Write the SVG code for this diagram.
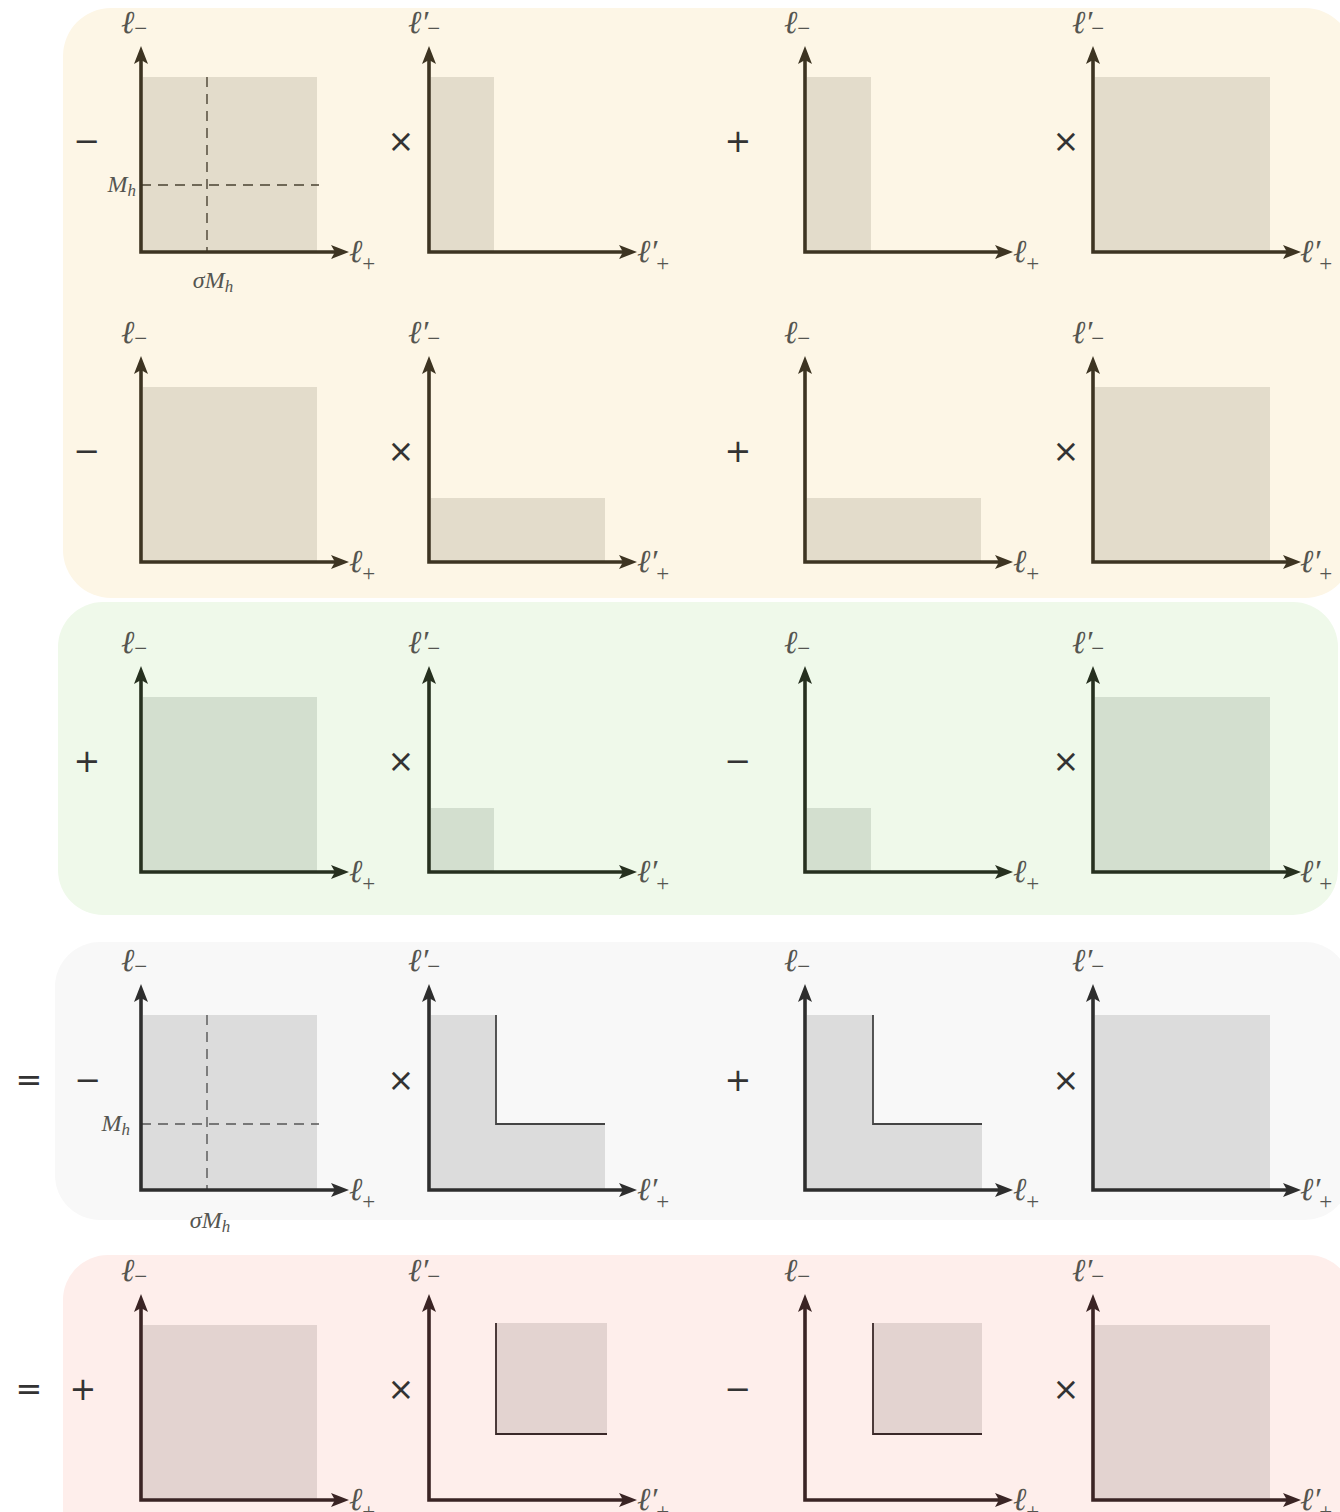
<svg xmlns="http://www.w3.org/2000/svg" xmlns:xlink="http://www.w3.org/1999/xlink" width="1340" height="1512" viewBox="0 0 1340 1512">
<style>
.lab{font-family:"Liberation Serif","DejaVu Serif",serif;font-style:italic;font-size:32px;fill:#555550}
.sub{font-style:normal;font-size:23px}
.ml{font-family:"Liberation Serif","DejaVu Serif",serif;font-style:italic;font-size:24px;fill:#555550}
.mlsub{font-style:italic;font-size:17px}
.op{font-family:"DejaVu Sans","Liberation Sans",sans-serif;font-size:32px;fill:#333;text-anchor:middle}
.dash{stroke-width:1.4;stroke-dasharray:10,7;fill:none}
.edge{stroke-width:1.8;fill:none}
.ax{fill:none;stroke:currentColor;stroke-width:3.6;stroke-linejoin:miter}
</style>
<defs>
<g id="axes">
<path class="ax" d="M0,-195 V0 H197"/>
<polygon points="0,-206 -7,-188 0,-192 7,-188" fill="currentColor"/>
<polygon points="208,0 190,-7 194,0 190,7" fill="currentColor"/>
</g>
</defs>

<g id="panels">
<rect x="63" y="8" width="1290" height="590" rx="48" fill="#fdf6e6"/>
<rect x="58" y="602" width="1280" height="313" rx="45" fill="#eff9ea"/>
<rect x="55" y="942" width="1295" height="278" rx="45" fill="#f8f8f8"/>
<rect x="63" y="1255" width="1290" height="300" rx="45" fill="#feeeeb"/>
</g>

<!-- Row 1 (yellow) -->
<g id="r1c1" color="#3d3422">
<rect x="143" y="77" width="174" height="175" fill="#e3dccb"/>
<path class="dash" stroke="#4a4232" d="M207,77 V252 M141,185 H319"/>
<use xlink:href="#axes" x="141" y="252"/>
<text class="lab" x="121" y="33">ℓ<tspan class="sub" dy="3">−</tspan></text>
<text class="lab" x="349" y="262">ℓ<tspan class="sub" dy="9">+</tspan></text>
<text class="ml" x="136" y="192" text-anchor="end">M<tspan class="mlsub" dy="4">h</tspan></text>
<text class="ml" x="213" y="288" text-anchor="middle">σM<tspan class="mlsub" dy="4">h</tspan></text>
</g>
<g id="r1c2" color="#3d3422">
<rect x="431" y="77" width="63" height="175" fill="#e3dccb"/>
<use xlink:href="#axes" x="429" y="252"/>
<text class="lab" x="408" y="33">ℓ′<tspan class="sub" dx="-1" dy="3">−</tspan></text>
<text class="lab" x="637" y="262">ℓ′<tspan class="sub" dx="-1" dy="9">+</tspan></text>
</g>
<g id="r1c3" color="#3d3422">
<rect x="807" y="77" width="64" height="175" fill="#e3dccb"/>
<use xlink:href="#axes" x="805" y="252"/>
<text class="lab" x="784" y="33">ℓ<tspan class="sub" dy="3">−</tspan></text>
<text class="lab" x="1013" y="262">ℓ<tspan class="sub" dy="9">+</tspan></text>
</g>
<g id="r1c4" color="#3d3422">
<rect x="1095" y="77" width="175" height="175" fill="#e3dccb"/>
<use xlink:href="#axes" x="1093" y="252"/>
<text class="lab" x="1072" y="33">ℓ′<tspan class="sub" dx="-1" dy="3">−</tspan></text>
<text class="lab" x="1300" y="262">ℓ′<tspan class="sub" dx="-1" dy="9">+</tspan></text>
</g>
<g id="ops1">
<text class="op" x="87" y="152">−</text>
<text class="op" x="401" y="152">×</text>
<text class="op" x="738" y="152">+</text>
<text class="op" x="1066" y="152">×</text>
</g>

<!-- Row 2 (yellow) -->
<g id="r2c1" color="#3d3422">
<rect x="143" y="387" width="174" height="175" fill="#e3dccb"/>
<use xlink:href="#axes" x="141" y="562"/>
<text class="lab" x="121" y="343">ℓ<tspan class="sub" dy="3">−</tspan></text>
<text class="lab" x="349" y="572">ℓ<tspan class="sub" dy="9">+</tspan></text>
</g>
<g id="r2c2" color="#3d3422">
<rect x="431" y="498" width="174" height="64" fill="#e3dccb"/>
<use xlink:href="#axes" x="429" y="562"/>
<text class="lab" x="408" y="343">ℓ′<tspan class="sub" dx="-1" dy="3">−</tspan></text>
<text class="lab" x="637" y="572">ℓ′<tspan class="sub" dx="-1" dy="9">+</tspan></text>
</g>
<g id="r2c3" color="#3d3422">
<rect x="807" y="498" width="174" height="64" fill="#e3dccb"/>
<use xlink:href="#axes" x="805" y="562"/>
<text class="lab" x="784" y="343">ℓ<tspan class="sub" dy="3">−</tspan></text>
<text class="lab" x="1013" y="572">ℓ<tspan class="sub" dy="9">+</tspan></text>
</g>
<g id="r2c4" color="#3d3422">
<rect x="1095" y="387" width="175" height="175" fill="#e3dccb"/>
<use xlink:href="#axes" x="1093" y="562"/>
<text class="lab" x="1072" y="343">ℓ′<tspan class="sub" dx="-1" dy="3">−</tspan></text>
<text class="lab" x="1300" y="572">ℓ′<tspan class="sub" dx="-1" dy="9">+</tspan></text>
</g>
<g id="ops2">
<text class="op" x="87" y="462">−</text>
<text class="op" x="401" y="462">×</text>
<text class="op" x="738" y="462">+</text>
<text class="op" x="1066" y="462">×</text>
</g>

<!-- Row 3 (green) -->
<g id="r3c1" color="#26301f">
<rect x="143" y="697" width="174" height="175" fill="#d3dfcf"/>
<use xlink:href="#axes" x="141" y="872"/>
<text class="lab" x="121" y="653">ℓ<tspan class="sub" dy="3">−</tspan></text>
<text class="lab" x="349" y="882">ℓ<tspan class="sub" dy="9">+</tspan></text>
</g>
<g id="r3c2" color="#26301f">
<rect x="431" y="808" width="63" height="64" fill="#d3dfcf"/>
<use xlink:href="#axes" x="429" y="872"/>
<text class="lab" x="408" y="653">ℓ′<tspan class="sub" dx="-1" dy="3">−</tspan></text>
<text class="lab" x="637" y="882">ℓ′<tspan class="sub" dx="-1" dy="9">+</tspan></text>
</g>
<g id="r3c3" color="#26301f">
<rect x="807" y="808" width="64" height="64" fill="#d3dfcf"/>
<use xlink:href="#axes" x="805" y="872"/>
<text class="lab" x="784" y="653">ℓ<tspan class="sub" dy="3">−</tspan></text>
<text class="lab" x="1013" y="882">ℓ<tspan class="sub" dy="9">+</tspan></text>
</g>
<g id="r3c4" color="#26301f">
<rect x="1095" y="697" width="175" height="175" fill="#d3dfcf"/>
<use xlink:href="#axes" x="1093" y="872"/>
<text class="lab" x="1072" y="653">ℓ′<tspan class="sub" dx="-1" dy="3">−</tspan></text>
<text class="lab" x="1300" y="882">ℓ′<tspan class="sub" dx="-1" dy="9">+</tspan></text>
</g>
<g id="ops3">
<text class="op" x="87" y="772">+</text>
<text class="op" x="401" y="772">×</text>
<text class="op" x="738" y="772">−</text>
<text class="op" x="1066" y="772">×</text>
</g>

<!-- Row 4 (gray) -->
<g id="r4c1" color="#2e2e2e">
<rect x="143" y="1015" width="174" height="175" fill="#dcdcdc"/>
<path class="dash" stroke="#555" d="M207,1015 V1190 M141,1124 H319"/>
<use xlink:href="#axes" x="141" y="1190"/>
<text class="lab" x="121" y="971">ℓ<tspan class="sub" dy="3">−</tspan></text>
<text class="lab" x="349" y="1200">ℓ<tspan class="sub" dy="9">+</tspan></text>
<text class="ml" x="130" y="1131" text-anchor="end">M<tspan class="mlsub" dy="4">h</tspan></text>
<text class="ml" x="210" y="1228" text-anchor="middle">σM<tspan class="mlsub" dy="4">h</tspan></text>
</g>
<g id="r4c2" color="#2e2e2e">
<path d="M431,1015 H496 V1124 H605 V1190 H431 Z" fill="#dcdcdc"/>
<path class="edge" stroke="#444" d="M496,1015 V1124 H605"/>
<use xlink:href="#axes" x="429" y="1190"/>
<text class="lab" x="408" y="971">ℓ′<tspan class="sub" dx="-1" dy="3">−</tspan></text>
<text class="lab" x="637" y="1200">ℓ′<tspan class="sub" dx="-1" dy="9">+</tspan></text>
</g>
<g id="r4c3" color="#2e2e2e">
<path d="M807,1015 H873 V1124 H982 V1190 H807 Z" fill="#dcdcdc"/>
<path class="edge" stroke="#444" d="M873,1015 V1124 H982"/>
<use xlink:href="#axes" x="805" y="1190"/>
<text class="lab" x="784" y="971">ℓ<tspan class="sub" dy="3">−</tspan></text>
<text class="lab" x="1013" y="1200">ℓ<tspan class="sub" dy="9">+</tspan></text>
</g>
<g id="r4c4" color="#2e2e2e">
<rect x="1095" y="1015" width="175" height="175" fill="#dcdcdc"/>
<use xlink:href="#axes" x="1093" y="1190"/>
<text class="lab" x="1072" y="971">ℓ′<tspan class="sub" dx="-1" dy="3">−</tspan></text>
<text class="lab" x="1300" y="1200">ℓ′<tspan class="sub" dx="-1" dy="9">+</tspan></text>
</g>
<g id="ops4">
<text class="op" x="29" y="1091">=</text>
<text class="op" x="88" y="1091">−</text>
<text class="op" x="401" y="1091">×</text>
<text class="op" x="738" y="1091">+</text>
<text class="op" x="1066" y="1091">×</text>
</g>

<!-- Row 5 (red) -->
<g id="r5c1" color="#3a2424">
<rect x="143" y="1325" width="174" height="175" fill="#e3d3d0"/>
<use xlink:href="#axes" x="141" y="1500"/>
<text class="lab" x="121" y="1281">ℓ<tspan class="sub" dy="3">−</tspan></text>
<text class="lab" x="349" y="1510">ℓ<tspan class="sub" dy="9">+</tspan></text>
</g>
<g id="r5c2" color="#3a2424">
<rect x="496" y="1323" width="111" height="111" fill="#e3d3d0"/>
<path class="edge" stroke="#3a2828" d="M496,1323 V1434 H607"/>
<use xlink:href="#axes" x="429" y="1500"/>
<text class="lab" x="408" y="1281">ℓ′<tspan class="sub" dx="-1" dy="3">−</tspan></text>
<text class="lab" x="637" y="1510">ℓ′<tspan class="sub" dx="-1" dy="9">+</tspan></text>
</g>
<g id="r5c3" color="#3a2424">
<rect x="873" y="1323" width="109" height="111" fill="#e3d3d0"/>
<path class="edge" stroke="#3a2828" d="M873,1323 V1434 H982"/>
<use xlink:href="#axes" x="805" y="1500"/>
<text class="lab" x="784" y="1281">ℓ<tspan class="sub" dy="3">−</tspan></text>
<text class="lab" x="1013" y="1510">ℓ<tspan class="sub" dy="9">+</tspan></text>
</g>
<g id="r5c4" color="#3a2424">
<rect x="1095" y="1325" width="175" height="175" fill="#e3d3d0"/>
<use xlink:href="#axes" x="1093" y="1500"/>
<text class="lab" x="1072" y="1281">ℓ′<tspan class="sub" dx="-1" dy="3">−</tspan></text>
<text class="lab" x="1300" y="1510">ℓ′<tspan class="sub" dx="-1" dy="9">+</tspan></text>
</g>
<g id="ops5">
<text class="op" x="29" y="1400">=</text>
<text class="op" x="83" y="1400">+</text>
<text class="op" x="401" y="1400">×</text>
<text class="op" x="738" y="1400">−</text>
<text class="op" x="1066" y="1400">×</text>
</g>
</svg>
